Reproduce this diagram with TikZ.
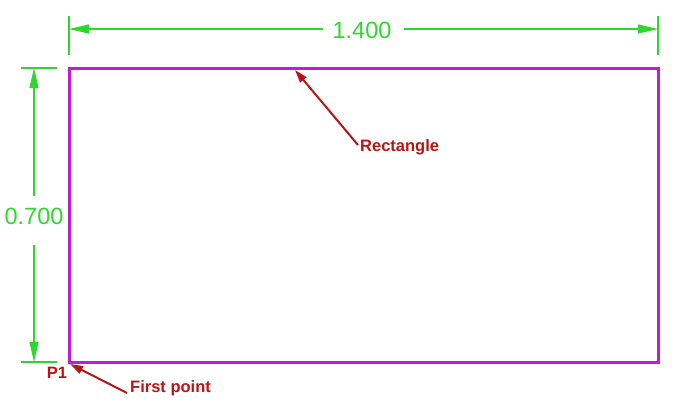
\documentclass[tikz,border=0pt]{standalone}
\usepackage{fontspec}
\setmainfont{Liberation Sans}
\usetikzlibrary{arrows.meta}
\definecolor{dimgreen}{RGB}{45,215,45}
\definecolor{rectmag}{RGB}{190,30,210}
\definecolor{labred}{RGB}{185,20,20}
\tikzset{
  dimline/.style={draw=dimgreen, line width=1.2pt},
  dimarrow/.style={dimline, -{Triangle[length=20pt,width=9pt]}},
  dimtext/.style={text=dimgreen, font=\fontsize{23.5}{26}\selectfont, inner sep=0pt},
  rectline/.style={draw=rectmag, line width=3pt},
  labtext/.style={text=labred, font=\bfseries\fontsize{16.5}{19}\selectfont, inner sep=0pt},
  labarrow/.style={draw=labred, line width=2pt, -{Triangle[length=13pt,width=8pt]}}
}
\begin{document}
\begin{tikzpicture}[x=1pt,y=-1pt]
\useasboundingbox (0,0) rectangle (680,408);
% rectangle
\coordinate (A) at (69,68);
\coordinate (B) at (658,362);
\draw[rectline] (A) rectangle (B);
% horizontal dimension
\coordinate (hl1) at (69,16); \coordinate (hl2) at (69,55);
\coordinate (hr1) at (658,16); \coordinate (hr2) at (658,55);
\draw[dimline] (hl1) -- (hl2);
\draw[dimline] (hr1) -- (hr2);
\node[dimtext] (htext) at (362,30) {1.400};
\coordinate (hL) at (69,29); \coordinate (hR) at (658,29);
\coordinate (hgl) at (323,29); \coordinate (hgr) at (404,29);
\draw[dimarrow] (hgl) -- (hL);
\draw[dimarrow] (hgr) -- (hR);
% vertical dimension
\coordinate (vt1) at (21,68); \coordinate (vt2) at (57,68);
\coordinate (vb1) at (21,362); \coordinate (vb2) at (57,362);
\draw[dimline] (vt1) -- (vt2);
\draw[dimline] (vb1) -- (vb2);
\node[dimtext] (vtext) at (34,216) {0.700};
\coordinate (vT) at (34,68); \coordinate (vB) at (34,362);
\coordinate (vgt) at (34,196); \coordinate (vgb) at (34,245);
\draw[dimarrow] (vgt) -- (vT);
\draw[dimarrow] (vgb) -- (vB);
% labels
\node[labtext, anchor=west] (rect) at (360,147) {Rectangle};
\coordinate (rtip) at (295,70);
\draw[labarrow] (rect.west) ++(-2,-2) coordinate (rtail) (rtail) -- (rtip);
\node[labtext, anchor=west] (fp) at (130,388) {First point};
\coordinate (ftip) at (70,364);
\coordinate (ftail) at (127,393);
\draw[labarrow] (ftail) -- (ftip);
\node[labtext] (p1) at (57,373) {P1};
\end{tikzpicture}
\end{document}
